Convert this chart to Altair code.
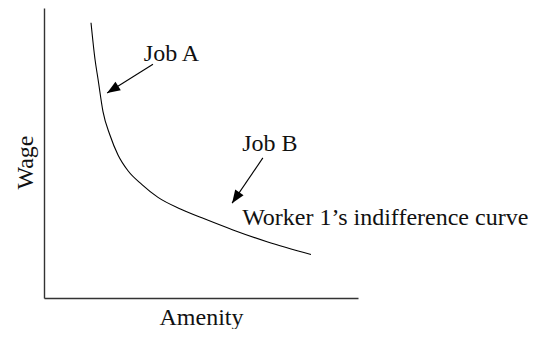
import math
import altair as alt
import pandas as pd

# Indifference curve (amenity, wage) in abstract units
curve_amenity = [1.497, 1.624, 1.720, 1.879, 2.102, 2.357, 2.675, 3.121, 3.631,
                 4.363, 5.127, 6.019, 7.102, 8.503]
curve_wage = [9.490, 8.231, 7.551, 6.429, 5.612, 4.932, 4.388, 3.912, 3.469,
              3.061, 2.721, 2.347, 1.939, 1.497]

# Arrows: tail -> tip
arrow_names = ["Job A", "Job B"]
arrow_tail_x = [3.47, 6.97]
arrow_tail_y = [8.06, 4.83]
arrow_tip_x = [2.01, 5.99]
arrow_tip_y = [7.07, 3.27]

# Text labels
label_text = ["Job A", "Job B", "Worker 1\u2019s indifference curve"]
label_x = [3.18, 6.31, 6.31]
label_y = [8.16, 5.07, 2.52]

W, H = 314, 290
XMAX, YMAX = 10, 10
FONT = "Liberation Serif"
FS = 24

xs = alt.Scale(domain=[0, XMAX], nice=False, zero=False)
ys = alt.Scale(domain=[0, YMAX], nice=False, zero=False)

curve_df = pd.DataFrame({"a": curve_amenity, "w": curve_wage})

# arrow head angle derived from the arrow direction in screen space
angles = []
for tx, ty, px, py in zip(arrow_tail_x, arrow_tail_y, arrow_tip_x, arrow_tip_y):
    dx = (px - tx) * W / XMAX
    dy = -(py - ty) * H / YMAX
    ang = math.degrees(math.atan2(dx, -dy)) % 360
    angles.append(ang)

arrow_df = pd.DataFrame({
    "name": arrow_names, "x1": arrow_tail_x, "y1": arrow_tail_y,
    "x2": arrow_tip_x, "y2": arrow_tip_y, "ang": angles,
})
label_df = pd.DataFrame({"t": label_text, "x": label_x, "y": label_y})

x_axis = alt.Axis(title="Amenity", labels=False, ticks=False, grid=False,
                  domainColor="#333", domainWidth=1.4, titleFont=FONT,
                  titleFontSize=FS, titleFontWeight="normal", titleColor="#111",
                  titleBaseline="alphabetic", titleY=26)
y_axis = alt.Axis(title="Wage", labels=False, ticks=False, grid=False,
                  domainColor="#333", domainWidth=1.4, titleFont=FONT,
                  titleFontSize=FS, titleFontWeight="normal", titleColor="#111",
                  titleBaseline="alphabetic", titleX=-12, titleY=154, titleAngle=-90)

curve = alt.Chart(curve_df).mark_line(color="black", strokeWidth=1.1,
                                      interpolate="monotone").encode(
    x=alt.X("a:Q", scale=xs, axis=x_axis),
    y=alt.Y("w:Q", scale=ys, axis=y_axis),
)

shafts = alt.Chart(arrow_df).mark_rule(color="black", strokeWidth=1.1).encode(
    x=alt.X("x1:Q", scale=xs), y=alt.Y("y1:Q", scale=ys),
    x2="x2:Q", y2="y2:Q",
)

heads = alt.Chart(arrow_df).mark_point(
    shape="M0,0L-0.78,2L0.78,2Z", filled=True, color="black", opacity=1,
    size=169, strokeWidth=0,
).encode(
    x=alt.X("x2:Q", scale=xs), y=alt.Y("y2:Q", scale=ys),
    angle=alt.Angle("ang:Q", scale=None),
)

labels = alt.Chart(label_df).mark_text(
    font=FONT, fontSize=FS, align="left", baseline="alphabetic", color="#111",
).encode(
    x=alt.X("x:Q", scale=xs), y=alt.Y("y:Q", scale=ys), text="t:N",
)

chart = alt.layer(curve, shafts, heads, labels).properties(
    width=W, height=H,
    autosize=alt.AutoSizeParams(type="none"),
    padding={"left": 36, "top": 0, "right": 175, "bottom": 31},
).configure_view(stroke=None)

chart.save("out.html", embed_options={"renderer": "svg", "actions": False})
